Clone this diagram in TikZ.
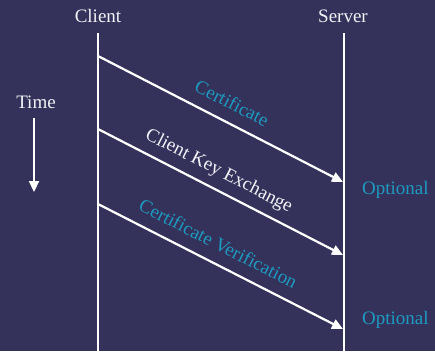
\documentclass[tikz,border=0pt]{standalone}
\usepackage{fontspec}
\setmainfont{Liberation Serif}
\usetikzlibrary{arrows.meta}
\definecolor{bgnavy}{HTML}{34325A}
\definecolor{msgteal}{HTML}{1E9AC0}
\definecolor{inkwhite}{HTML}{F2F2F6}
\tikzset{
  lifeline/.style={draw=white, line width=2.2pt},
  msg/.style={draw=white, line width=2.2pt, -{Triangle[length=11pt,width=10pt]}},
  head/.style={text=inkwhite, font=\fontsize{19}{22}\selectfont, anchor=base, inner sep=0pt},
  lbl/.style={font=\fontsize{19}{22}\selectfont, sloped, anchor=base, inner sep=0pt, yshift=13pt},
  opt/.style={text=msgteal, font=\fontsize{19}{22}\selectfont, anchor=base west, inner sep=0pt}
}
\begin{document}
\begin{tikzpicture}[x=1pt, y=-1pt]
  \fill[bgnavy] (0,0) rectangle (435,351);
  \useasboundingbox (0,0) rectangle (435,351);

  % column headings
  \node[head] (client) at (98,22) {Client};
  \node[head] (server) at (343,22) {Server};

  % lifelines
  \coordinate (ctop) at (98,33);
  \coordinate (cbot) at (98,351);
  \coordinate (stop) at (344,33);
  \coordinate (sbot) at (344,351);
  \draw[lifeline] (ctop) -- (cbot);
  \draw[lifeline] (stop) -- (sbot);

  % time axis
  \node[head] (time) at (36,108) {Time};
  \coordinate (t0) at (34,118);
  \coordinate (t1) at (34,192);
  \draw[msg] (t0) -- (t1);

  % message end points
  \coordinate (c1) at (98,56);
  \coordinate (s1) at (343,182);
  \coordinate (c2) at (98,129);
  \coordinate (s2) at (343,255);
  \coordinate (c3) at (98,204);
  \coordinate (s3) at (343,329);

  \draw[msg] (c1) -- node[lbl, pos=0.51, text=msgteal] (m1) {Certificate} (s1);
  \draw[msg] (c2) -- node[lbl, pos=0.46, text=inkwhite] (m2) {Client Key Exchange} (s2);
  \draw[msg] (c3) -- node[lbl, pos=0.455, text=msgteal] (m3) {Certificate Verification} (s3);

  \node[opt] (o1) at (362,194) {Optional};
  \node[opt] (o2) at (362,324) {Optional};
\end{tikzpicture}
\end{document}
